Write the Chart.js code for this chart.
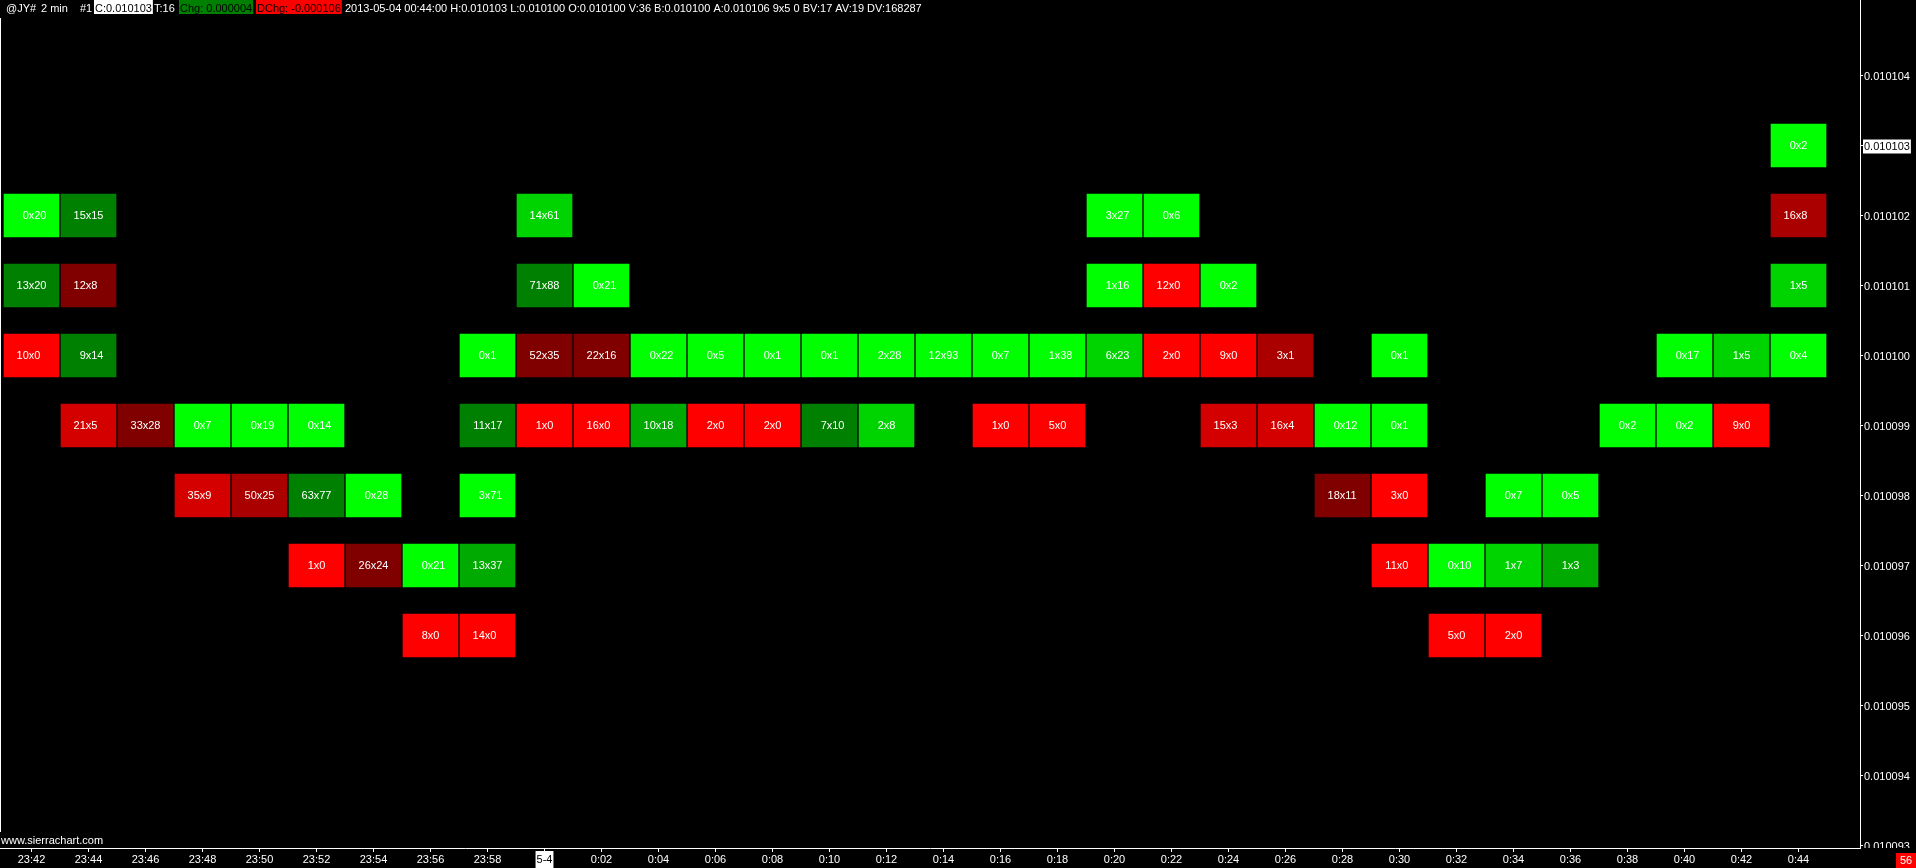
<!DOCTYPE html>
<html>
<head>
<meta charset="utf-8">
<title>@JY# 2 min</title>
<script src="https://cdn.jsdelivr.net/npm/chart.js@4.4.0/dist/chart.umd.min.js"></script>
<style>
  html, body { margin: 0; padding: 0; background: #000; overflow: hidden; }
</style>
</head>
<body>
<canvas id="chart" width="1916" height="868"></canvas>
<script>
// bar times (x axis), the 0:00 bar shows the date instead
const timeLabels = ['23:42', '23:44', '23:46', '23:48', '23:50', '23:52', '23:54', '23:56', '23:58', '5-4',
  '0:02', '0:04', '0:06', '0:08', '0:10', '0:12', '0:14', '0:16', '0:18', '0:20', '0:22', '0:24',
  '0:26', '0:28', '0:30', '0:32', '0:34', '0:36', '0:38', '0:40', '0:42', '0:44'];
const dateLabel = '5-4';

// price axis labels
const priceTicks = [0.010093, 0.010094, 0.010095, 0.010096, 0.010097, 0.010098,
  0.010099, 0.010100, 0.010101, 0.010102, 0.010103, 0.010104];
const lastPrice = 0.010103;

// highest price of each bar, then bid x ask volume per price going down one tick at a time
const highs = [0.010102, 0.010102, 0.010099, 0.010099, 0.010099, 0.010099, 0.010098, 0.010097,
  0.010100, 0.010102, 0.010101, 0.010100, 0.010100, 0.010100, 0.010100, 0.010100,
  0.010100, 0.010100, 0.010100, 0.010102, 0.010102, 0.010101, 0.010100, 0.010099,
  0.010100, 0.010097, 0.010098, 0.010098, 0.010099, 0.010100, 0.010100, 0.010103];
const bids = [
  [0, 13, 10], [15, 12, 9, 21], [33], [0, 35], [0, 50], [0, 63, 1], [0, 26], [0, 8],
  [0, 11, 3, 13, 14], [14, 71, 52, 1], [0, 22, 16], [0, 10], [0, 2], [0, 2], [0, 7], [2, 2],
  [12], [0, 1], [1, 5], [3, 1, 6], [0, 12, 2], [0, 9, 15], [3, 16], [0, 18],
  [0, 0, 3, 11], [0, 5], [0, 1, 2], [0, 1], [0], [0, 0], [1, 9], [0, 16, 1, 0]
];
const asks = [
  [20, 20, 0], [15, 8, 14, 5], [28], [7, 9], [19, 25], [14, 77, 0], [28, 24], [21, 0],
  [1, 17, 71, 37, 0], [61, 88, 35, 0], [21, 16, 0], [22, 18], [5, 0], [1, 0], [1, 10], [28, 8],
  [93], [7, 0], [38, 0], [27, 16, 23], [6, 0, 0], [2, 0, 3], [1, 4], [12, 11],
  [1, 1, 0, 0], [10, 0], [7, 7, 0], [5, 3], [2], [17, 2], [5, 0], [2, 8, 5, 4]
];

const headerLeft = [[6, '@JY#'], [41, '2 min'], [80, '#1'], [154, 'T:16']];
const headerBoxes = [[94, 'C:0.010103', '#ffffff'], [179, 'Chg: 0.000004', '#008000'], [256, 'DChg: -0.000106', '#ff0000']];
const headerInfo = '2013-05-04 00:44:00 H:0.010103 L:0.010100 O:0.010100 V:36 B:0.010100 A:0.010106 9x5 0 BV:17 AV:19 DV:168287';
const barsLeft = '56';
const siteText = 'www.sierrachart.com';

const FONT = "11px 'Liberation Sans', Arial, sans-serif";
const TICK = 1e6;          // price -> ticks
const HALF = 0.307;        // half cell height in ticks
const shades = [0x80, 0xaa, 0xd4, 0xff];

function cellColor(bid, ask) {
  const tot = bid + ask;
  const r = Math.max(bid, ask) / tot;
  let lvl = Math.ceil((r - 0.5) / 0.125) - 1;
  lvl = Math.max(0, Math.min(3, lvl));
  const h = shades[lvl].toString(16).padStart(2, '0');
  return ask >= bid ? '#00' + h + '00' : '#' + h + '0000';
}

const cells = [];
highs.forEach((hi, col) => {
  const top = Math.round(hi * TICK);
  bids[col].forEach((b, k) => {
    const p = top - k;
    cells.push({ x: col, y: [p - HALF, p + HALF], bid: b, ask: asks[col][k] });
  });
});
const colors = cells.map(c => cellColor(c.bid, c.ask));

const cellText = {
  id: 'cellText',
  afterDatasetsDraw(chart) {
    const ctx = chart.ctx;
    const meta = chart.getDatasetMeta(0);
    ctx.save();
    ctx.font = FONT;
    ctx.fillStyle = '#fff';
    ctx.textBaseline = 'middle';
    const xw = ctx.measureText('x').width;
    meta.data.forEach((bar, i) => {
      const c = cells[i];
      const cy = (bar.y + bar.base) / 2 + 0.5;
      ctx.textAlign = 'center';
      ctx.fillText('x', bar.x, cy);
      ctx.textAlign = 'right';
      ctx.fillText(String(c.bid), bar.x - xw / 2, cy);
      ctx.textAlign = 'left';
      ctx.fillText(String(c.ask), bar.x + xw / 2, cy);
    });
    ctx.restore();
  }
};

const overlay = {
  id: 'overlay',
  afterDraw(chart) {
    const ctx = chart.ctx;
    const area = chart.chartArea;
    const y = chart.scales.y;
    ctx.save();
    ctx.font = FONT;
    ctx.textBaseline = 'middle';
    ctx.textAlign = 'left';

    // price labels, clipped at the bottom of the plot
    ctx.save();
    ctx.beginPath();
    ctx.rect(area.right, 0, chart.width - area.right, area.bottom);
    ctx.clip();
    y.ticks.forEach(t => {
      const py = y.getPixelForValue(t.value) + 1;
      const txt = (t.value / TICK).toFixed(6);
      if (t.value === Math.round(lastPrice * TICK)) {
        const w = ctx.measureText(txt).width;
        ctx.fillStyle = '#fff';
        ctx.fillRect(area.right + 3, py - 7, w + 2, 14);
        ctx.fillStyle = '#000';
      } else {
        ctx.fillStyle = '#fff';
      }
      ctx.fillText(txt, area.right + 4, py);
    });
    ctx.restore();

    // header line
    ctx.textBaseline = 'alphabetic';
    ctx.fillStyle = '#fff';
    headerLeft.forEach(([x, t]) => ctx.fillText(t, x, 12));
    headerBoxes.forEach(([x, t, bg]) => {
      const w = ctx.measureText(t).width;
      ctx.fillStyle = bg;
      ctx.fillRect(x, 0, w + 2, 14);
      ctx.fillStyle = '#000';
      ctx.fillText(t, x + 1, 12);
    });
    ctx.fillStyle = '#fff';
    ctx.fillText(headerInfo, 345, 12);

    // left edge and site text
    ctx.strokeStyle = '#fff';
    ctx.lineWidth = 1;
    ctx.beginPath();
    ctx.moveTo(0.5, 18);
    ctx.lineTo(0.5, 832);
    ctx.stroke();
    ctx.textBaseline = 'middle';
    ctx.fillText(siteText, 1, 841);

    // bar count box
    ctx.fillStyle = '#ff0000';
    ctx.fillRect(1896, 853, 20, 15);
    ctx.fillStyle = '#fff';
    ctx.textAlign = 'center';
    ctx.fillText(barsLeft, 1906, 861);
    ctx.restore();
  }
};

const X_PX = 57, Y_PX = 70, AREA_W = 1860, AREA_H = 848;
const xMin = -31.5 / X_PX;
const yMax = Math.round(priceTicks[priceTicks.length - 1] * TICK) + 75.5 / Y_PX;

new Chart(document.getElementById('chart'), {
  type: 'bar',
  data: {
    datasets: [{
      data: cells,
      backgroundColor: colors,
      borderWidth: 0,
      barThickness: 55,
      grouped: false
    }]
  },
  options: {
    responsive: false,
    animation: false,
    devicePixelRatio: 1,
    layout: { padding: 0 },
    plugins: { legend: { display: false }, tooltip: { enabled: false } },
    scales: {
      x: {
        type: 'linear',
        min: xMin,
        max: xMin + AREA_W / X_PX,
        offset: false,
        afterFit: s => { s.height = 20; },
        afterBuildTicks: s => { s.ticks = timeLabels.map((_, i) => ({ value: i })); },
        grid: { display: true, drawOnChartArea: false, drawTicks: true, tickLength: 4, color: '#fff', offset: false },
        border: { display: true, color: '#fff', width: 1 },
        ticks: {
          autoSkip: false,
          maxRotation: 0,
          padding: 1,
          font: { family: "'Liberation Sans', Arial, sans-serif", size: 11 },
          callback: (v, i) => timeLabels[i],
          color: c => timeLabels[c.index] === dateLabel ? '#000' : '#fff',
          showLabelBackdrop: c => timeLabels[c.index] === dateLabel,
          backdropColor: '#fff',
          backdropPadding: { top: 2, bottom: 2, left: 1, right: 1 }
        }
      },
      y: {
        type: 'linear',
        position: 'right',
        beginAtZero: false,
        min: yMax - AREA_H / Y_PX,
        max: yMax,
        afterFit: s => { s.width = 1916 - AREA_W; },
        afterBuildTicks: s => { s.ticks = priceTicks.map(p => ({ value: Math.round(p * TICK) })); },
        grid: { display: true, drawOnChartArea: false, drawTicks: true, tickLength: 3, color: '#fff' },
        border: { display: true, color: '#fff', width: 1 },
        ticks: { display: false }
      }
    }
  },
  plugins: [cellText, overlay]
});
</script>
</body>
</html>
